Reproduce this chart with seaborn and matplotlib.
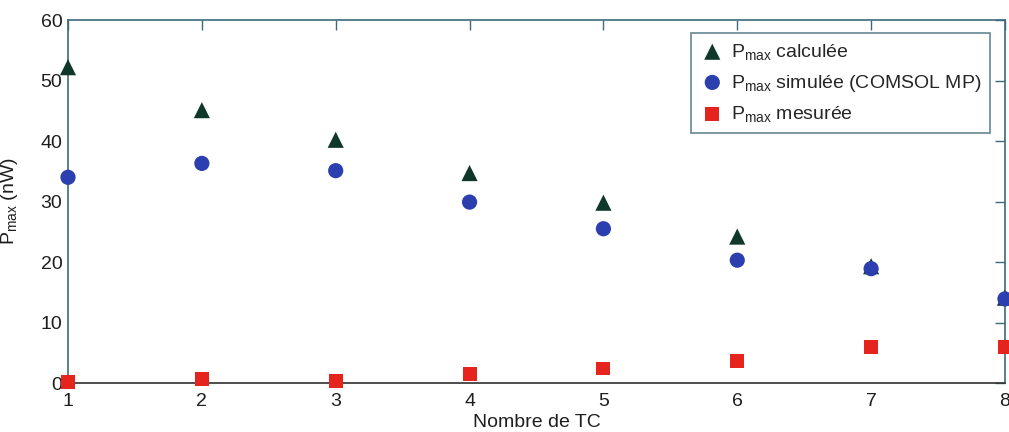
import numpy as np
import pandas as pd
import seaborn as sns
import matplotlib
matplotlib.use("Agg")
import matplotlib.pyplot as plt

# values
nb_tc = [1, 2, 3, 4, 5, 6, 7, 8]
p_calc = [52.2, 45.1, 40.2, 34.7, 29.8, 24.2, 19.3, 14.1]
p_simu = [34.0, 36.3, 35.1, 29.9, 25.5, 20.3, 18.9, 13.9]
p_mes = [0.2, 0.6, 0.4, 1.5, 2.4, 3.7, 5.9, 5.9]

sns.set_style("white")
plt.rcParams['font.family'] = ['Liberation Sans', 'DejaVu Sans']
plt.rcParams['mathtext.fontset'] = 'custom'
plt.rcParams['mathtext.rm'] = 'Liberation Sans'
plt.rcParams['mathtext.it'] = 'Liberation Sans'

fig = plt.figure(figsize=(10.09, 4.32), dpi=100)
ax = fig.add_axes([0.0674, 0.1134, 0.9286, 0.8403])

sns.scatterplot(x=nb_tc, y=p_calc, marker="^", s=135, color="#10382a",
                edgecolor="none", label=r"P$_{\mathrm{max}}$ calculée", ax=ax, clip_on=False, zorder=3)
sns.scatterplot(x=nb_tc, y=p_simu, marker="o", s=120, color="#2b3fae",
                edgecolor="none", label=r"P$_{\mathrm{max}}$ simulée (COMSOL MP)", ax=ax, clip_on=False, zorder=4)
sns.scatterplot(x=nb_tc, y=p_mes, marker="s", s=100, color="#e5251d",
                edgecolor="none", label=r"P$_{\mathrm{max}}$ mesurée", ax=ax, clip_on=False, zorder=5)

ax.set_xlim(1, 8)
ax.set_ylim(0, 60)
ax.set_xticks(nb_tc)
ax.set_yticks(range(0, 61, 10))
ax.tick_params(direction="in", length=7, width=1, top=True, right=True,
               labelsize=14, colors="#3d6a7a", labelcolor="#1e1e1e", pad=4)
ax.tick_params(axis="x", pad=7)
for sp in ax.spines.values():
    sp.set_color("#3d6a7a")
    sp.set_linewidth(1.2)
ax.spines['bottom'].set_color("#2e3030")

ax.set_xlabel("Nombre de TC", fontsize=14, labelpad=3, color="#1e1e1e")
ax.set_ylabel(r"P$_{\mathrm{max}}$ (nW)", fontsize=14, color="#1e1e1e")
ax.yaxis.set_label_coords(-0.051, 0.5)

leg = ax.legend(loc="upper right", bbox_to_anchor=(0.984, 0.964), fontsize=14,
                frameon=True, fancybox=False, edgecolor="#3d6a7a", borderaxespad=0,
                handletextpad=0.3, borderpad=0.45, labelspacing=0.55, handlelength=1.3)
leg.get_frame().set_linewidth(1.2)

fig.savefig("out.png", dpi=100)
